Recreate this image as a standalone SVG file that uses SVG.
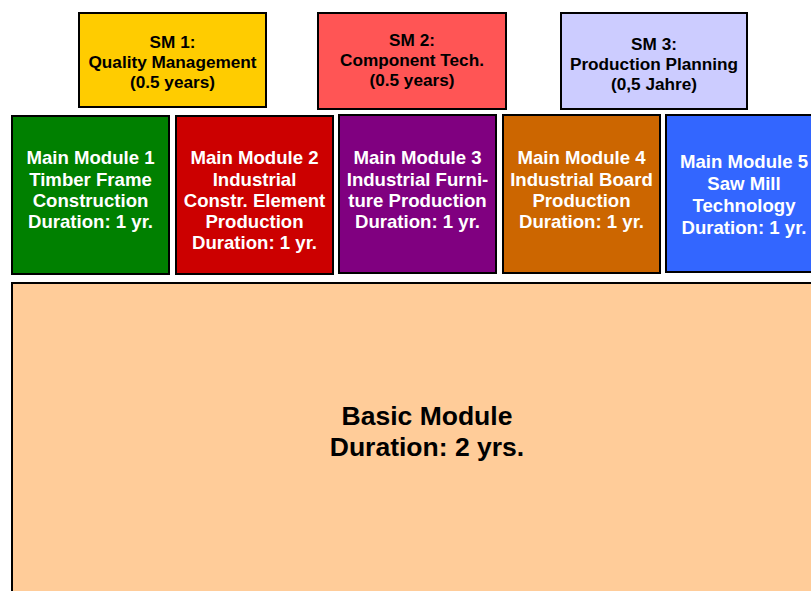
<svg xmlns="http://www.w3.org/2000/svg" width="811" height="591" viewBox="0 0 811 591">
<style>
.box{stroke:#000;stroke-width:2}
text{font-family:"Liberation Sans",Arial,sans-serif;font-weight:bold;text-anchor:middle}
.sm{font-size:17.2px;fill:#000}
.mm{font-size:18.6px;fill:#fff}
.bm{font-size:26.5px;fill:#000}
</style>
<rect x="0" y="0" width="811" height="591" fill="#fff"/>
<g id="basic">
<rect class="box" x="12" y="283" width="820" height="330" fill="#FFCC99"/>
<text class="bm" x="427" y="425">Basic Module</text>
<text class="bm" x="427" y="456">Duration: 2 yrs.</text>
</g>
<g id="sm1">
<rect class="box" x="79" y="13" width="187" height="94" fill="#FFCC00"/>
<text class="sm" x="172.5" y="48">SM 1:</text>
<text class="sm" x="172.5" y="68">Quality Management</text>
<text class="sm" x="172.5" y="88">(0.5 years)</text>
</g>
<g id="sm2">
<rect class="box" x="318" y="13" width="188" height="96" fill="#FF5555"/>
<text class="sm" x="412" y="46">SM 2:</text>
<text class="sm" x="412" y="66">Component Tech.</text>
<text class="sm" x="412" y="86">(0.5 years)</text>
</g>
<g id="sm3">
<rect class="box" x="561" y="13" width="186" height="96" fill="#CCCCFF"/>
<text class="sm" x="654" y="50">SM 3:</text>
<text class="sm" x="654" y="70">Production Planning</text>
<text class="sm" x="654" y="90">(0,5 Jahre)</text>
</g>
<g id="mm1">
<rect class="box" x="12" y="116" width="157" height="158" fill="#008000"/>
<text class="mm" x="90.5" y="164">Main Module 1</text>
<text class="mm" x="90.5" y="186">Timber Frame</text>
<text class="mm" x="90.5" y="207">Construction</text>
<text class="mm" x="90.5" y="228">Duration: 1 yr.</text>
</g>
<g id="mm2">
<rect class="box" x="176" y="116" width="157" height="158" fill="#CC0000"/>
<text class="mm" x="254.5" y="164">Main Module 2</text>
<text class="mm" x="254.5" y="186">Industrial</text>
<text class="mm" x="254.5" y="207">Constr. Element</text>
<text class="mm" x="254.5" y="228">Production</text>
<text class="mm" x="254.5" y="249">Duration: 1 yr.</text>
</g>
<g id="mm3">
<rect class="box" x="339" y="115" width="157" height="158" fill="#800080"/>
<text class="mm" x="417.5" y="164">Main Module 3</text>
<text class="mm" x="417.5" y="186">Industrial Furni-</text>
<text class="mm" x="417.5" y="207">ture Production</text>
<text class="mm" x="417.5" y="228">Duration: 1 yr.</text>
</g>
<g id="mm4">
<rect class="box" x="503" y="115" width="157" height="158" fill="#CC6600"/>
<text class="mm" x="581.5" y="164">Main Module 4</text>
<text class="mm" x="581.5" y="186">Industrial Board</text>
<text class="mm" x="581.5" y="207">Production</text>
<text class="mm" x="581.5" y="228">Duration: 1 yr.</text>
</g>
<g id="mm5">
<rect class="box" x="666" y="115" width="160" height="157" fill="#3366FF"/>
<text class="mm" x="744" y="168">Main Module 5</text>
<text class="mm" x="744" y="190">Saw Mill</text>
<text class="mm" x="744" y="212">Technology</text>
<text class="mm" x="744" y="234">Duration: 1 yr.</text>
</g>
<g id="connectors"></g>
</svg>
